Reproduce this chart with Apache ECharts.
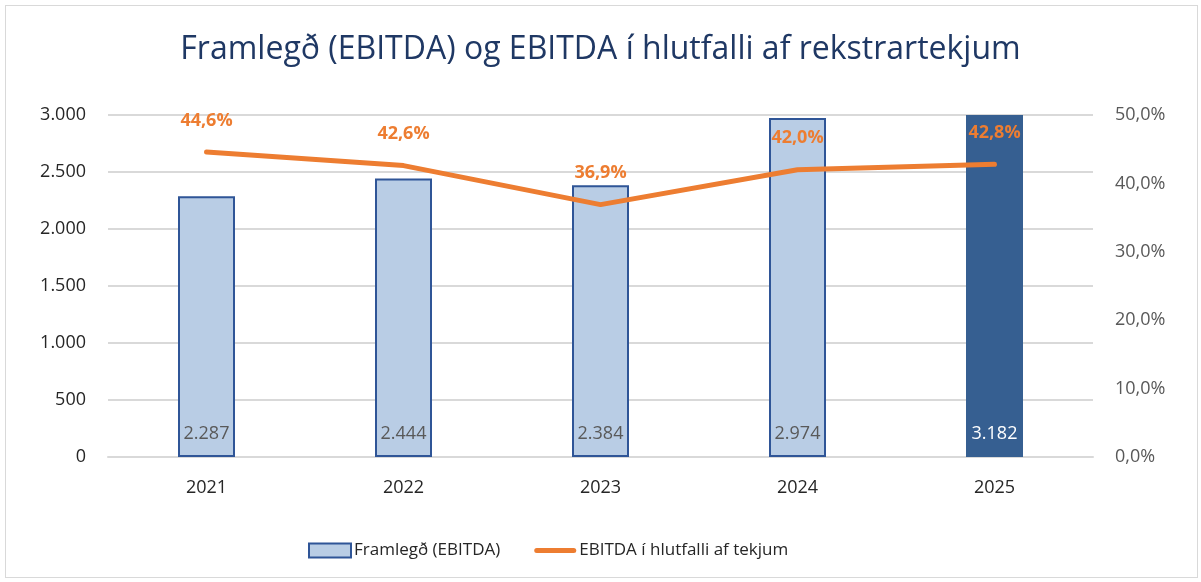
<!DOCTYPE html>
<html>
<head>
<meta charset="utf-8">
<script src="https://cdn.jsdelivr.net/npm/echarts@6/dist/echarts.min.js"></script>
<style>
  html, body { margin: 0; padding: 0; background: #fff; }
  #frame { position: absolute; left: 5px; top: 5px; width: 1193px; height: 573px; border: 1px solid #d9d9d9; box-sizing: border-box; }
  #chart { position: absolute; left: 0; top: 0; width: 1201px; height: 582px; }
</style>
</head>
<body>
<div id="frame"></div>
<div id="chart"></div>
<script>
const years = ['2021', '2022', '2023', '2024', '2025'];
const ebitda = [2287, 2444, 2384, 2974, 3182];
const ebitdaPct = [44.6, 42.6, 36.9, 42.0, 42.8];

const lightBar = '#b9cde5';
const darkBar = '#365f91';
const orange = '#ed7d31';
const font = 'Open Sans';

// thin line icon for the legend, kept inside a 42x14 box
const lineIcon = 'path://M0,0 M2.5,4.5 H39.5 A2.5,2.5 0 0 1 39.5,9.5 H2.5 A2.5,2.5 0 0 1 2.5,4.5 Z M42,14';

function fmtThousand(v) {
  return String(Math.round(v)).replace(/\B(?=(\d{3})+(?!\d))/g, '.');
}
function fmtPct(v) {
  return v.toFixed(1).replace('.', ',') + '%';
}

const chart = echarts.init(document.getElementById('chart'));
chart.setOption({
  animation: false,
  backgroundColor: 'transparent',
  textStyle: {fontFamily: font},
  title: {
    text: 'Framlegð (EBITDA) og EBITDA í hlutfalli af rekstrartekjum',
    left: 'center',
    top: 29,
    textStyle: {color: '#1f3864', fontSize: 32, fontWeight: 'normal', fontFamily: font}
  },
  legend: {
    bottom: 18,
    left: 303,
    itemGap: 34,
    itemWidth: 42,
    itemHeight: 14,
    textStyle: {color: '#262626', fontSize: 17, fontFamily: font, padding: [0, 0, 0, -2]},
    data: [
      {name: 'Framlegð (EBITDA)', icon: 'rect', itemStyle: {color: lightBar, borderColor: '#2f5597', borderWidth: 2}},
      {name: 'EBITDA í hlutfalli af tekjum', icon: lineIcon, itemStyle: {color: orange, borderWidth: 0}}
    ]
  },
  grid: {left: 108, right: 108, top: 115, bottom: 125},
  xAxis: {
    type: 'category',
    data: years,
    axisLine: {lineStyle: {color: '#d9d9d9', width: 2}},
    axisTick: {show: false},
    axisLabel: {color: '#262626', fontSize: 18, margin: 22}
  },
  yAxis: [
    {
      type: 'value',
      min: 0,
      max: 3000,
      interval: 500,
      axisLine: {show: false},
      axisTick: {show: false},
      splitLine: {lineStyle: {color: '#d9d9d9', width: 2}},
      axisLabel: {color: '#262626', fontSize: 18, margin: 22, formatter: fmtThousand}
    },
    {
      type: 'value',
      min: 0,
      max: 50,
      interval: 10,
      axisLine: {show: false},
      axisTick: {show: false},
      splitLine: {show: false},
      axisLabel: {color: '#595959', fontSize: 18, margin: 22, formatter: fmtPct}
    }
  ],
  series: [
    {
      name: 'Framlegð (EBITDA)',
      type: 'bar',
      barWidth: 57,
      data: ebitda.map((v, i) => ({
        value: v,
        itemStyle: i === ebitda.length - 1
          ? {color: darkBar, borderColor: darkBar, borderWidth: 0}
          : {color: lightBar, borderColor: '#2f5597', borderWidth: 2},
        label: {color: i === ebitda.length - 1 ? '#ffffff' : '#595959'}
      })),
      label: {
        show: true,
        position: 'insideBottom',
        distance: 14,
        fontSize: 18,
        fontFamily: font,
        formatter: p => fmtThousand(p.value)
      }
    },
    {
      name: 'EBITDA í hlutfalli af tekjum',
      type: 'line',
      yAxisIndex: 1,
      data: ebitdaPct,
      symbol: 'circle',
      symbolSize: 1,
      showSymbol: true,
      lineStyle: {color: orange, width: 5, cap: 'round'},
      itemStyle: {color: orange},
      label: {
        show: true,
        position: 'top',
        distance: 22,
        color: orange,
        fontSize: 18,
        fontWeight: 'bold',
        fontFamily: font,
        formatter: p => fmtPct(p.value)
      },
      z: 5
    }
  ]
});
</script>
</body>
</html>
